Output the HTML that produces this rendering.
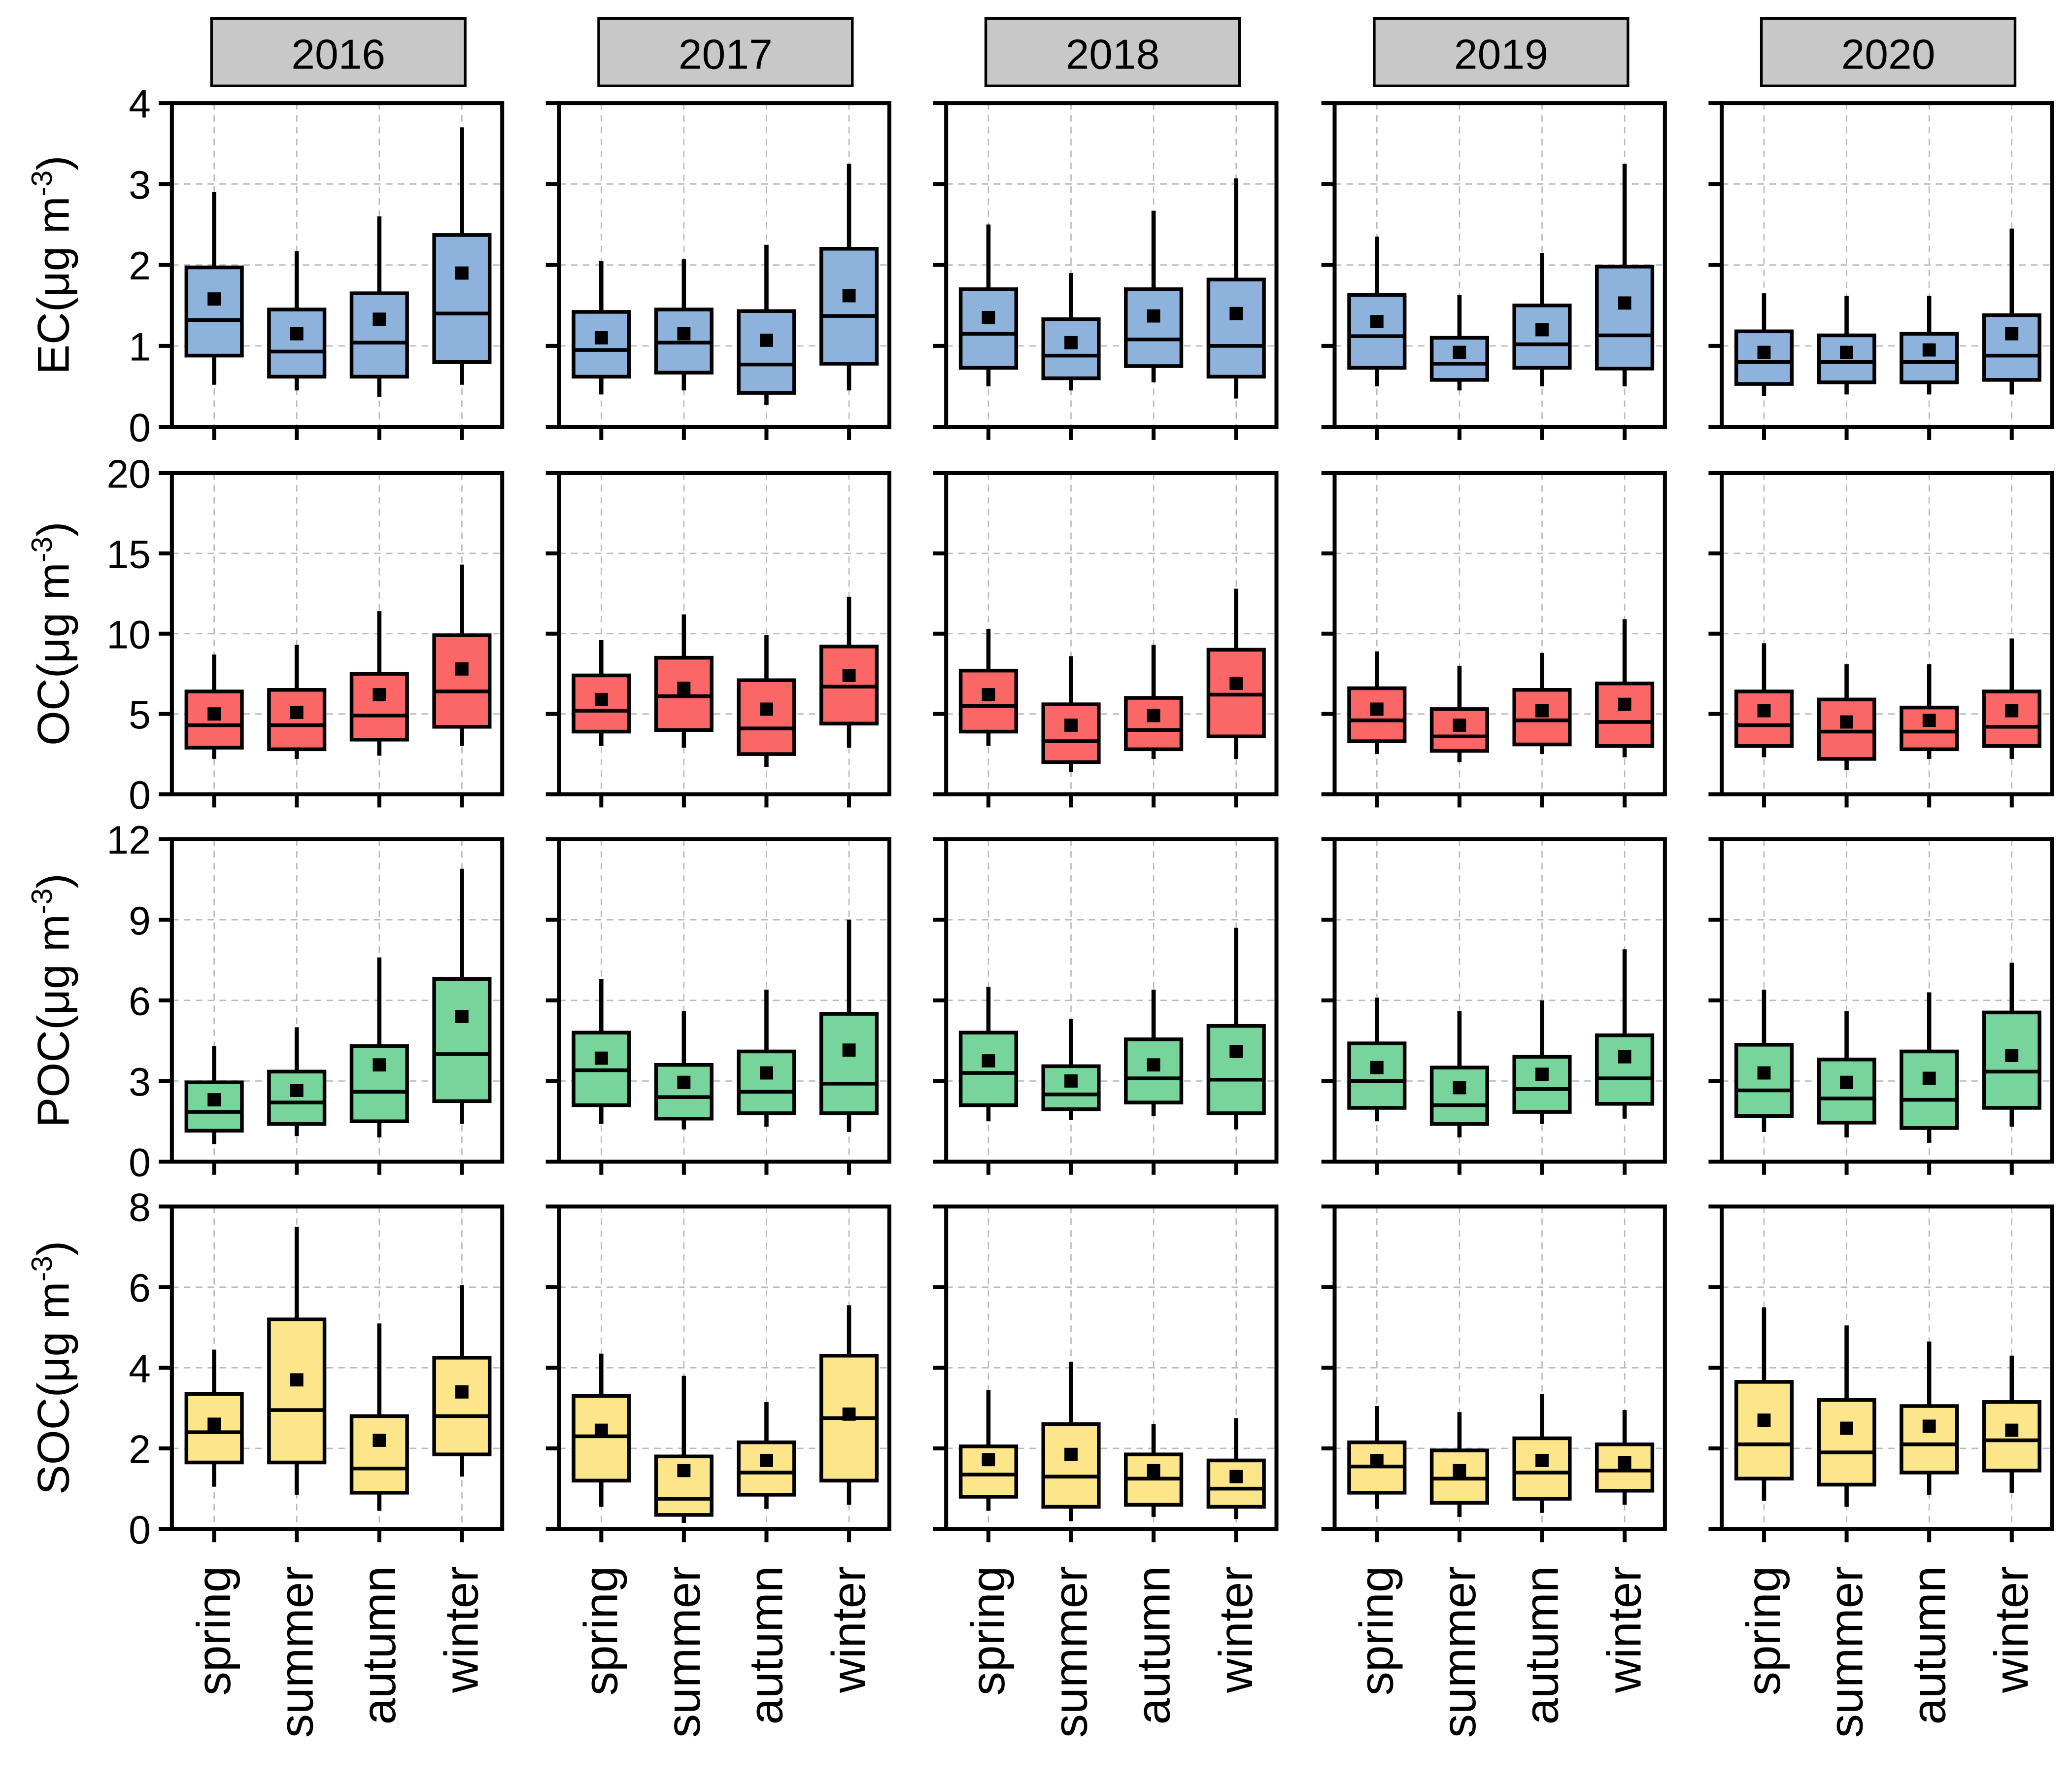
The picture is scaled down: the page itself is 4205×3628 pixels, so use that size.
<!DOCTYPE html>
<html><head><meta charset="utf-8"><style>
html,body{margin:0;padding:0;background:#fff}
svg{display:block}
text{font-family:"Liberation Sans",Arial,sans-serif;fill:#000}
</style></head><body>
<svg id="chart" xmlns="http://www.w3.org/2000/svg" width="4205" height="3628" viewBox="0 0 1568 1353"></svg>
<script>
const years = ["2016","2017","2018","2019","2020"];
const seasons = ["spring","summer","autumn","winter"];
// each entry: [whiskerLow, q1, median, q3, whiskerHigh, mean]
const ecStats = [
 [[0.52,0.88,1.32,1.97,2.9,1.58],[0.45,0.62,0.93,1.45,2.17,1.15],[0.37,0.62,1.04,1.65,2.6,1.33],[0.52,0.8,1.4,2.37,3.7,1.9]],
 [[0.4,0.62,0.95,1.42,2.05,1.1],[0.45,0.67,1.04,1.45,2.07,1.15],[0.27,0.42,0.77,1.43,2.25,1.07],[0.45,0.78,1.37,2.2,3.25,1.62]],
 [[0.5,0.73,1.15,1.7,2.5,1.35],[0.45,0.6,0.88,1.33,1.9,1.04],[0.55,0.75,1.08,1.7,2.67,1.37],[0.35,0.62,1.0,1.82,3.07,1.4]],
 [[0.5,0.73,1.12,1.63,2.35,1.3],[0.45,0.58,0.78,1.1,1.63,0.92],[0.5,0.73,1.02,1.5,2.15,1.2],[0.5,0.72,1.13,1.98,3.25,1.53]],
 [[0.38,0.53,0.8,1.18,1.65,0.92],[0.4,0.55,0.8,1.13,1.62,0.92],[0.4,0.55,0.8,1.15,1.62,0.95],[0.4,0.58,0.88,1.38,2.45,1.15]]
];
const ocStats = [
 [[2.2,2.9,4.3,6.4,8.7,5.0],[2.2,2.8,4.3,6.5,9.3,5.1],[2.4,3.4,4.9,7.5,11.4,6.2],[3.0,4.2,6.4,9.9,14.3,7.8]],
 [[3.0,3.9,5.2,7.4,9.6,5.9],[2.9,4.0,6.1,8.5,11.2,6.6],[1.7,2.5,4.1,7.1,9.9,5.3],[2.9,4.4,6.7,9.2,12.3,7.4]],
 [[3.0,3.9,5.5,7.7,10.3,6.2],[1.4,2.0,3.3,5.6,8.6,4.3],[2.2,2.8,4.0,6.0,9.3,4.9],[2.2,3.6,6.2,9.0,12.8,6.9]],
 [[2.5,3.3,4.6,6.6,8.9,5.3],[2.0,2.7,3.6,5.3,8.0,4.3],[2.5,3.1,4.6,6.5,8.8,5.2],[2.3,3.0,4.5,6.9,10.9,5.6]],
 [[2.3,3.0,4.3,6.4,9.4,5.2],[1.5,2.2,3.9,5.9,8.1,4.5],[2.2,2.8,3.9,5.4,8.1,4.6],[2.2,3.0,4.2,6.4,9.7,5.2]]
];
const pocStats = [
 [[0.65,1.15,1.85,2.95,4.3,2.3],[0.95,1.4,2.2,3.35,5.0,2.65],[0.9,1.5,2.6,4.3,7.6,3.6],[1.4,2.25,4.0,6.8,10.9,5.4]],
 [[1.4,2.1,3.4,4.8,6.8,3.85],[1.2,1.6,2.4,3.6,5.6,2.95],[1.3,1.8,2.6,4.1,6.4,3.3],[1.1,1.8,2.9,5.5,9.0,4.15]],
 [[1.5,2.1,3.3,4.8,6.5,3.75],[1.55,1.95,2.5,3.55,5.3,3.0],[1.7,2.2,3.1,4.55,6.4,3.6],[1.2,1.8,3.05,5.05,8.7,4.1]],
 [[1.5,2.0,3.0,4.4,6.1,3.5],[0.9,1.4,2.1,3.5,5.6,2.75],[1.4,1.85,2.7,3.9,6.0,3.25],[1.6,2.15,3.1,4.7,7.9,3.9]],
 [[1.1,1.7,2.65,4.35,6.4,3.3],[0.9,1.45,2.35,3.8,5.6,2.95],[0.7,1.25,2.3,4.1,6.3,3.1],[1.3,2.0,3.35,5.55,7.4,3.95]]
];
const socStats = [
 [[1.05,1.65,2.4,3.35,4.45,2.6],[0.85,1.65,2.95,5.2,7.5,3.7],[0.45,0.9,1.5,2.8,5.1,2.2],[1.3,1.85,2.8,4.25,6.05,3.4]],
 [[0.55,1.2,2.3,3.3,4.35,2.45],[0.15,0.35,0.75,1.8,3.8,1.45],[0.5,0.85,1.4,2.15,3.15,1.7],[0.6,1.2,2.75,4.3,5.55,2.85]],
 [[0.45,0.8,1.35,2.05,3.45,1.72],[0.2,0.55,1.3,2.6,4.15,1.85],[0.3,0.6,1.25,1.85,2.6,1.45],[0.25,0.55,1.0,1.7,2.75,1.3]],
 [[0.5,0.9,1.55,2.15,3.05,1.7],[0.3,0.65,1.25,1.95,2.9,1.45],[0.4,0.75,1.4,2.25,3.35,1.7],[0.6,0.95,1.45,2.1,2.95,1.65]],
 [[0.7,1.25,2.1,3.65,5.5,2.7],[0.55,1.1,1.9,3.2,5.05,2.5],[0.85,1.4,2.1,3.05,4.65,2.55],[0.9,1.45,2.2,3.15,4.3,2.45]]
];
const ecTicks = [0,1,2,3,4];
const ocTicks = [0,5,10,15,20];
const pocTicks = [0,3,6,9,12];
const socTicks = [0,2,4,6,8];
const rowNames = ["EC","OC","POC","SOC"];

const rows = [
 {name:"ec", label:"EC", stats:ecStats, ticks:ecTicks, top:78, bot:323, color:"#8db3dd"},
 {name:"oc", label:"OC", stats:ocStats, ticks:ocTicks, top:358, bot:601, color:"#fb6767"},
 {name:"poc", label:"POC", stats:pocStats, ticks:pocTicks, top:635, bot:879, color:"#77d59c"},
 {name:"soc", label:"SOC", stats:socStats, ticks:socTicks, top:913, bot:1157, color:"#fde58a"}
];
const colLeft = [130,423,716,1010,1303];
const panelW = 250;
const NS = "http://www.w3.org/2000/svg";
const svg = document.getElementById("chart");
function mk(tag, attrs, parent){
  const e = document.createElementNS(NS, tag);
  for (const k in attrs) e.setAttribute(k, attrs[k]);
  (parent||svg).appendChild(e);
  return e;
}
function xPos(c, i){ return colLeft[c] + 32 + i*62.5; }

years.forEach((yr, c) => {
  const cx = colLeft[c] + panelW/2 + 1;
  const r = mk("rect",{x:cx-96,y:14,width:192,height:51,fill:"#c8c8c8",stroke:"#000","stroke-width":2});
  
  
  const t = mk("text",{x:cx,y:52,"font-size":32,"text-anchor":"middle"});
  t.textContent = yr;
  
  
});

rows.forEach((row, r) => {
  const vmax = row.ticks[row.ticks.length-1];
  const yS = v => row.bot - (v / vmax) * (row.bot - row.top);
  const cy = (row.top + row.bot)/2;
  const yt = mk("text",{x:0,y:0,"font-size":34,"text-anchor":"middle",transform:`translate(52,${cy}) rotate(-90)`});
  
  
  yt.appendChild(document.createTextNode(row.label + "(μg m"));
  const sup = mk("tspan",{"font-size":22,dy:-13},yt); sup.textContent = "-3";
  const cl = mk("tspan",{dy:13},yt); cl.textContent = ")";

  years.forEach((yr, c) => {
    const L = colLeft[c], R = L + panelW;
    const g = mk("g",{});
    
    
    row.ticks.forEach(t => {
      if (t===0 || t===vmax) return;
      mk("line",{x1:L,x2:R,y1:yS(t),y2:yS(t),stroke:"#bbb","stroke-width":1,"stroke-dasharray":"5,4"},g);
    });
    seasons.forEach((s,i) => {
      mk("line",{x1:xPos(c,i),x2:xPos(c,i),y1:row.top,y2:row.bot,stroke:"#bbb","stroke-width":1,"stroke-dasharray":"5,4"},g);
    });
    row.ticks.forEach(t => {
      mk("line",{x1:L-10,x2:L,y1:yS(t),y2:yS(t),stroke:"#000","stroke-width":3},g);
      if (c===0){
        const tl = mk("text",{x:L-16,y:yS(t)+11,"font-size":30,"text-anchor":"end"},g);
        tl.textContent = t;
        
        
      }
    });
    seasons.forEach((s,i) => {
      mk("line",{x1:xPos(c,i),x2:xPos(c,i),y1:row.bot,y2:row.bot+10,stroke:"#000","stroke-width":3},g);
    });
    seasons.forEach((s,i) => {
      const d = row.stats[c][i];
      const x = xPos(c,i), hw = 21;
      const bg = mk("g",{},g);
      
      
      mk("line",{x1:x,x2:x,y1:yS(d[0]),y2:yS(d[4]),stroke:"#000","stroke-width":3.2},bg);
      mk("rect",{x:x-hw,y:yS(d[3]),width:2*hw,height:yS(d[1])-yS(d[3]),fill:row.color,stroke:"#000","stroke-width":2.8},bg);
      mk("line",{x1:x-hw,x2:x+hw,y1:yS(d[2]),y2:yS(d[2]),stroke:"#000","stroke-width":2.8},bg);
      mk("rect",{x:x-5,y:yS(d[5])-5,width:10,height:10,fill:"#000"},bg);
    });
    mk("rect",{x:L,y:row.top,width:panelW,height:row.bot-row.top,fill:"none",stroke:"#000","stroke-width":3},g);
  });
});

years.forEach((yr,c) => {
  seasons.forEach((s,i) => {
    const x = xPos(c,i);
    const t = mk("text",{x:0,y:0,"font-size":36,"text-anchor":"end",transform:`translate(${x+12},1185) rotate(-90)`});
    t.textContent = s;
    
    
  });
});
</script>
</body></html>
